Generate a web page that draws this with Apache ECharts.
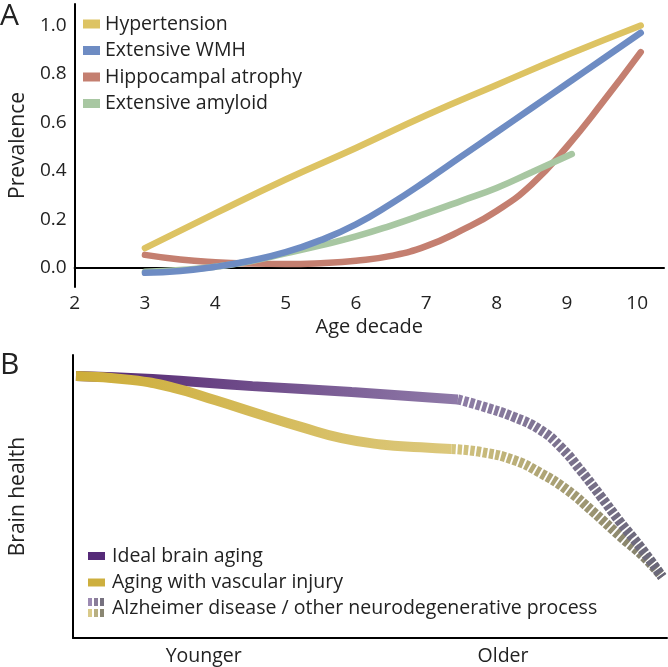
<!DOCTYPE html>
<html><head><meta charset="utf-8">
<script src="https://cdn.jsdelivr.net/npm/echarts@6/dist/echarts.min.js"></script>
<style>html,body{margin:0;padding:0;background:#fff}#c{width:668px;height:667px}</style>
</head><body><div id="c"></div>
<script>
// ---- Panel A data ----
const ageTicks = [2, 3, 4, 5, 6, 7, 8, 9, 10];
const prevTicks = [0, 0.2, 0.4, 0.6, 0.8, 1.0];
const hypAge = [3, 4, 5, 6, 7, 8, 9, 10.05];
const hypVal = [0.082, 0.225, 0.365, 0.495, 0.63, 0.755, 0.878, 1.0];
const wmhAge = [3, 3.5, 4, 4.5, 5, 5.5, 6, 6.5, 7, 7.5, 8, 8.5, 9, 9.5, 10.05];
const wmhVal = [-0.02, -0.012, 0.005, 0.03, 0.065, 0.115, 0.18, 0.265, 0.36, 0.46, 0.56, 0.66, 0.76, 0.86, 0.97];
const hipAge = [3, 3.5, 4, 4.5, 5, 5.5, 6, 6.5, 7, 7.5, 8, 8.5, 9, 9.5, 10.05];
const hipVal = [0.054, 0.035, 0.024, 0.018, 0.016, 0.02, 0.03, 0.05, 0.09, 0.155, 0.235, 0.345, 0.5, 0.68, 0.89];
const amyAge = [3, 3.5, 4, 4.5, 5, 5.5, 6, 6.5, 7, 7.5, 8, 8.5, 9.07];
const amyVal = [-0.015, -0.008, 0.005, 0.028, 0.06, 0.093, 0.13, 0.175, 0.225, 0.277, 0.33, 0.395, 0.47];
const namesA = ['Hypertension', 'Extensive WMH', 'Hippocampal atrophy', 'Extensive amyloid'];

// ---- Panel B data ----
const bTickPos = [22, 72.4];
const bTickLabels = ['Younger', 'Older'];
const idealX = [0.5, 13.4, 30.2, 46.9, 64.8];
const idealY = [92.6, 91.5, 89.0, 86.9, 84.3];
const idealAdX = [64.8, 68.7, 74.2, 78.7, 82.1, 85.4, 88.8, 92.1, 95.5, 99.2];
const idealAdY = [84.3, 82.0, 78.1, 73.5, 67.5, 59.4, 50.2, 41.0, 32.2, 21.6];
const vascX = [0.5, 9.7, 16.8, 24.0, 31.8, 38.5, 45.2, 51.9, 58.6, 63.7];
const vascY = [92.6, 91.2, 88.5, 84.0, 78.8, 74.5, 70.6, 68.4, 67.4, 66.8];
const vascAdX = [63.7, 68.7, 74.2, 78.7, 83.2, 87.6, 92.1, 96.3, 99.2];
const vascAdY = [66.8, 65.7, 62.9, 58.3, 52.3, 44.5, 36.0, 28.3, 21.6];
const namesB = ['Ideal brain aging', 'Aging with vascular injury', 'Alzheimer disease / other neurodegenerative process'];

const zip = (xs, ys) => xs.map((x, i) => [x, ys[i]]);
const FONT = 'Open Sans';
const TXT = '#222';

const adIconSvg = '<svg xmlns="http://www.w3.org/2000/svg" width="17" height="20" viewBox="0 0 17 20">' +
  '<rect x="0" y="0" width="4" height="8" fill="#9C8AB2"/><rect x="6" y="0" width="4" height="8" fill="#8A7D99"/><rect x="12" y="0" width="4" height="8" fill="#76717F"/>' +
  '<rect x="0" y="11" width="4" height="8" fill="#D9CA8A"/><rect x="6" y="11" width="4" height="8" fill="#B8AF82"/><rect x="12" y="11" width="4" height="8" fill="#8A8672"/>' +
  '</svg>';
const adIcon = 'image://data:image/svg+xml;charset=utf-8,' + encodeURIComponent(adIconSvg);

function grad(x1, x2, c1, c2) {
  return { type: 'linear', x: x1, y: 0, x2: x2, y2: 0, global: true,
    colorStops: [{ offset: 0, color: c1 }, { offset: 1, color: c2 }] };
}

const lineA = (name, xs, ys, color, z) => ({
  name, type: 'line', xAxisIndex: 0, yAxisIndex: 0, data: zip(xs, ys), smooth: true,
  showSymbol: false, symbol: 'none', z,
  itemStyle: { color }, lineStyle: { color, width: 6.5, cap: 'round' }
});

const chart = echarts.init(document.getElementById('c'), null, { renderer: 'canvas' });
chart.setOption({
  animation: false,
  backgroundColor: '#fff',
  title: [
    { text: 'A', left: 0, top: 1, padding: 0, textStyle: { fontFamily: FONT, fontSize: 30, fontWeight: 'normal', color: TXT } },
    { text: 'B', left: 0, top: 350, padding: 0, textStyle: { fontFamily: FONT, fontSize: 30, fontWeight: 'normal', color: TXT } }
  ],
  legend: [
    { orient: 'vertical', left: 83, top: 14, padding: 0, itemWidth: 17, itemHeight: 9, itemGap: 6.5, icon: 'rect',
      itemStyle: { borderWidth: 0 },
      data: namesA, textStyle: { fontFamily: FONT, fontSize: 19.5, color: TXT } },
    { orient: 'vertical', left: 88, top: 546, padding: 0, itemWidth: 17, itemHeight: 8, itemGap: 6.5, icon: 'rect',
      itemStyle: { borderWidth: 0 },
      data: [
        { name: namesB[0], itemStyle: { color: '#552A78' } },
        { name: namesB[1], itemStyle: { color: '#CDAF3E' } }
      ],
      textStyle: { fontFamily: FONT, fontSize: 19.5, color: TXT, padding: [0, 0, 0, 2] } },
    { orient: 'vertical', left: 88, top: 598, padding: 0, itemWidth: 17, itemHeight: 20,
      itemStyle: { borderWidth: 0 },
      data: [{ name: namesB[2], icon: adIcon }],
      textStyle: { fontFamily: FONT, fontSize: 19.5, color: TXT, padding: [0, 0, 0, 2] } }
  ],
  grid: [
    { left: 70, top: 4, width: 594, height: 283 },
    { left: 70, top: 355, width: 597, height: 283 }
  ],
  xAxis: [
    { type: 'value', gridIndex: 0, min: 2, max: 10.381,
      name: 'Age decade', nameLocation: 'middle', nameGap: 30,
      nameTextStyle: { fontFamily: FONT, fontSize: 20, color: TXT },
      axisLine: { show: true, lineStyle: { color: '#000', width: 2 } },
      axisTick: { show: false }, splitLine: { show: false },
      axisLabel: { customValues: ageTicks, margin: 7, fontFamily: FONT, fontSize: 19, color: TXT,
        formatter: v => String(v) } },
    { type: 'value', gridIndex: 1, min: 0, max: 100,
      axisLine: { show: true, lineStyle: { color: '#000', width: 2 } },
      axisTick: { show: false }, splitLine: { show: false },
      axisLabel: { customValues: bTickPos, margin: 8, fontFamily: FONT, fontSize: 19.5, color: TXT,
        formatter: v => { const i = bTickPos.indexOf(v); return i >= 0 ? bTickLabels[i] : ''; } } }
  ],
  yAxis: [
    { type: 'value', gridIndex: 0, min: -0.0784, max: 1.0887,
      name: 'Prevalence', nameLocation: 'middle', nameGap: 44,
      nameTextStyle: { fontFamily: FONT, fontSize: 21, color: TXT },
      axisLine: { show: true, lineStyle: { color: '#000', width: 2 } },
      axisTick: { show: false }, splitLine: { show: false },
      axisLabel: { customValues: prevTicks, margin: 8, fontFamily: FONT, fontSize: 19, color: TXT,
        formatter: v => v.toFixed(1) } },
    { type: 'value', gridIndex: 1, min: 0, max: 100,
      name: 'Brain health', nameLocation: 'middle', nameGap: 44,
      nameTextStyle: { fontFamily: FONT, fontSize: 21, color: TXT },
      axisLine: { show: true, lineStyle: { color: '#000', width: 2 } },
      axisTick: { show: false }, splitLine: { show: false },
      axisLabel: { show: false } }
  ],
  series: [
    lineA(namesA[2], hipAge, hipVal, '#C47F70', 2),
    lineA(namesA[3], amyAge, amyVal, '#A8C7A2', 3),
    lineA(namesA[1], wmhAge, wmhVal, '#6E8CC3', 4),
    lineA(namesA[0], hypAge, hypVal, '#DDC363', 5),
    { name: namesB[0], type: 'line', xAxisIndex: 1, yAxisIndex: 1, data: zip(idealX, idealY), smooth: true,
      symbol: 'none', z: 2, itemStyle: { color: '#552A78' },
      lineStyle: { width: 10, cap: 'butt', color: grad(70, 457, '#52236F', '#8F7AA8') } },
    { name: namesB[1], type: 'line', xAxisIndex: 1, yAxisIndex: 1, data: zip(vascX, vascY), smooth: true,
      symbol: 'none', z: 3, itemStyle: { color: '#CDAF3E' },
      lineStyle: { width: 10, cap: 'butt', color: grad(70, 450, '#CDAD38', '#DCC87C') } },
    { name: namesB[2], type: 'line', xAxisIndex: 1, yAxisIndex: 1, data: zip(vascAdX, vascAdY), smooth: true,
      symbol: 'none', z: 3, itemStyle: { color: '#9C8AB2' },
      lineStyle: { width: 10, cap: 'butt', type: [4.5, 1.8], color: grad(450, 662, '#D6C67E', '#7D7B6B') } },
    { name: namesB[2], type: 'line', xAxisIndex: 1, yAxisIndex: 1, data: zip(idealAdX, idealAdY), smooth: true,
      symbol: 'none', z: 4, itemStyle: { color: '#9C8AB2' },
      lineStyle: { width: 10, cap: 'butt', type: [4.5, 1.8], color: grad(457, 662, '#8E7DA6', '#6A6878') } }
  ]
});
</script>
</body></html>
